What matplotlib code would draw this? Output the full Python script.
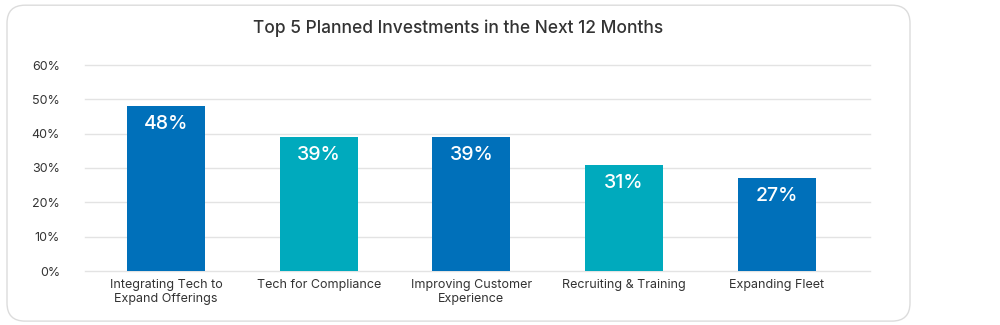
import matplotlib

matplotlib.use("Agg")

import matplotlib.pyplot as plt
from matplotlib.patches import FancyBboxPatch

plt.rcParams["font.family"] = ["Inter", "DejaVu Sans"]

categories = [
    "Integrating Tech to\nExpand Offerings",
    "Tech for Compliance",
    "Improving Customer\nExperience",
    "Recruiting & Training",
    "Expanding Fleet",
]
values = [48, 39, 39, 31, 27]
bar_colors = ["#0070BA", "#00AABD", "#0070BA", "#00AABD", "#0070BA"]
yticks = [0, 10, 20, 30, 40, 50, 60]
title = "Top 5 Planned Investments in the Next 12 Months"

TEXT = "#333333"
GRID = "#E3E3E3"

fig = plt.figure(figsize=(10, 3.25), dpi=100)

# rounded card behind the chart
card = FancyBboxPatch(
    (0.007, 0.012), 0.903, 0.972,
    boxstyle="round,pad=0,rounding_size=0.018",
    transform=fig.transFigure, facecolor="white", edgecolor="#DCDCDC",
    linewidth=1.0, mutation_aspect=3.08, zorder=-5,
)
fig.patches.append(card)

fig.text(0.458, 0.913, title, ha="center", va="center", fontsize=12.5,
         color=TEXT, fontweight="medium")

ax = fig.add_axes([0.085, 1 - 271 / 325, 0.785, (271 - 65) / 325])
ax.set_facecolor("none")
ax.set_zorder(2)

x = list(range(len(categories)))
bars = ax.bar(x, values, width=0.51, color=bar_colors, zorder=3)
for b, v in zip(bars, values):
    ax.text(b.get_x() + b.get_width() / 2, v - 5.3, f"{v}%", ha="center",
            va="center", color="white", fontsize=14, fontweight="medium",
            zorder=4)

ax.set_ylim(0, 60)
ax.set_xlim(-0.53, 4.61)
ax.set_yticks(yticks)
ax.set_yticklabels([f"{t}%" for t in yticks])
ax.set_xticks(x)
ax.set_xticklabels(categories, linespacing=1.15)
ax.yaxis.grid(True, color=GRID, linewidth=1.0, zorder=0)
for gl in ax.get_ygridlines():
    gl.set_clip_on(False)
ax.tick_params(axis="both", length=0, labelsize=9, colors=TEXT)
ax.tick_params(axis="y", pad=18)
ax.tick_params(axis="x", pad=6)
for s in ax.spines.values():
    s.set_visible(False)

fig.savefig("out.png", dpi=100, facecolor="white")
